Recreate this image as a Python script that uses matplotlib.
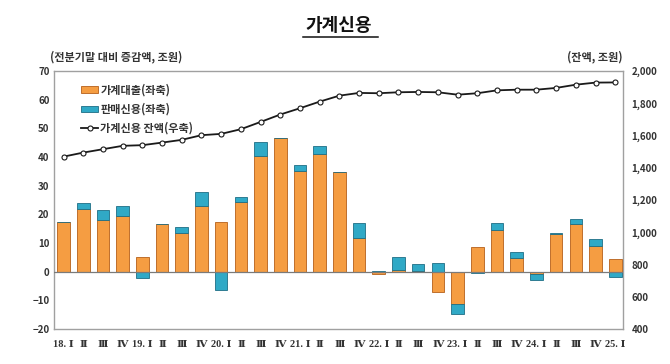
import numpy as np
import matplotlib
matplotlib.use("Agg")
import matplotlib.pyplot as plt
from matplotlib.lines import Line2D

plt.rcParams["font.family"] = ["Noto Sans CJK KR", "DejaVu Sans"]

quarters = ["18. Ⅰ", "Ⅱ", "Ⅲ", "Ⅳ", "19. Ⅰ", "Ⅱ", "Ⅲ", "Ⅳ",
            "20. Ⅰ", "Ⅱ", "Ⅲ", "Ⅳ", "21. Ⅰ", "Ⅱ", "Ⅲ", "Ⅳ",
            "22. Ⅰ", "Ⅱ", "Ⅲ", "Ⅳ", "23. Ⅰ", "Ⅱ", "Ⅲ", "Ⅳ",
            "24. Ⅰ", "Ⅱ", "Ⅲ", "Ⅳ", "25. Ⅰ"]
# 가계대출 / 판매신용 change vs previous quarter (조원)
loans = [17.3, 22.0, 18.0, 19.3, 5.1, 16.6, 13.5, 22.9,
         17.3, 24.2, 40.2, 46.6, 35.1, 41.1, 34.7, 11.7,
         -0.8, 0.7, 0.3, -7.1, -11.2, 8.6, 14.4, 4.8,
         -0.9, 13.2, 16.6, 9.1, 4.5]
sales = [0.1, 2.0, 3.5, 3.5, -2.1, 0.1, 2.1, 4.9,
         -6.5, 2.0, 5.1, 0.2, 2.1, 2.8, 0.1, 5.4,
         0.3, 4.4, 2.4, 3.1, -3.4, -0.4, 2.6, 2.1,
         -2.1, 0.2, 1.8, 2.3, -2.0]
# 가계신용 잔액 (조원, right axis)
balance = [1469, 1494, 1515, 1536, 1540, 1556, 1573, 1602,
           1610, 1639, 1684, 1730, 1769, 1810, 1847, 1864,
           1862, 1868, 1870, 1868, 1853, 1862, 1880, 1884,
           1884, 1895, 1915, 1928, 1929]

ORANGE, ORANGE_EDGE = "#F59D42", "#B5601A"
BLUE, BLUE_EDGE = "#30A9C6", "#1E6E85"
TXT = "#333333"

x = np.arange(len(quarters))
loans_a = np.array(loans)
sales_a = np.array(sales)
sales_bottom = np.where(np.sign(sales_a) == np.sign(loans_a), loans_a, 0.0)

fig = plt.figure(figsize=(6.7, 3.64), dpi=100)
ax = fig.add_axes([0.081, 0.096, 0.849, 0.709])
ax.bar(x, loans_a, width=0.64, color=ORANGE, edgecolor=ORANGE_EDGE, lw=0.6,
       zorder=3, label="가계대출(좌축)")
ax.bar(x, sales_a, bottom=sales_bottom, width=0.64, color=BLUE,
       edgecolor=BLUE_EDGE, lw=0.6, zorder=3, label="판매신용(좌축)")
ax.axhline(0, color="#7a7a7a", lw=0.9, zorder=4)

ax.set_ylim(-20, 70)
ax.set_yticks(range(-20, 71, 10))
ax.set_xlim(-0.47, len(quarters) - 0.6)
ax.set_xticks(x)
ax.set_xticklabels(quarters)
ax.tick_params(length=0, labelsize=7, colors=TXT)
ax.tick_params(axis="x", pad=8)
for lab in ax.get_yticklabels():
    lab.set_fontweight("bold")
for lab in ax.get_xticklabels():
    lab.set_fontweight("bold")
    lab.set_family(["Liberation Serif", "DejaVu Serif", "Noto Sans CJK KR"])
    lab.set_fontsize(7.5)
for s in ax.spines.values():
    s.set_color("#a0a0a0")
    s.set_linewidth(1.0)

ax2 = ax.twinx()
ax2.plot(x, balance, color="#1a1a1a", lw=1.3, marker="o", ms=3.6,
         mfc="white", mec="#1a1a1a", mew=0.8, zorder=5,
         label="가계신용 잔액(우축)")
ax2.set_ylim(400, 2000)
ax2.set_yticks(range(400, 2001, 200))
ax2.set_yticklabels([f"{v:,}" for v in range(400, 2001, 200)])
ax2.tick_params(length=0, labelsize=7, colors=TXT, pad=6)
for lab in ax2.get_yticklabels():
    lab.set_fontweight("bold")
for s in ax2.spines.values():
    s.set_visible(False)

h1, l1 = ax.get_legend_handles_labels()
h2, l2 = ax2.get_legend_handles_labels()
leg = ax2.legend(h1 + h2, l1 + l2, loc="upper left", bbox_to_anchor=(0.03, 0.99),
                 frameon=False, fontsize=8, handlelength=1.5, handleheight=0.5,
                 handletextpad=0.2, labelspacing=0.55)
for t in leg.get_texts():
    t.set_color(TXT)
    t.set_fontweight("bold")

fig.text(0.506, 0.93, "가계신용", ha="center", va="center", fontsize=13,
         fontweight="bold", color="#111111")
fig.add_artist(Line2D([0.452, 0.564], [0.899, 0.899], color="#111111", lw=1.1))
fig.text(0.075, 0.843, "(전분기말 대비 증감액, 조원)", fontsize=8, fontweight="bold",
         color=TXT, va="center")
fig.text(0.93, 0.843, "(잔액, 조원)", fontsize=8, fontweight="bold",
         color=TXT, va="center", ha="right")

fig.savefig("out.png", dpi=100)
